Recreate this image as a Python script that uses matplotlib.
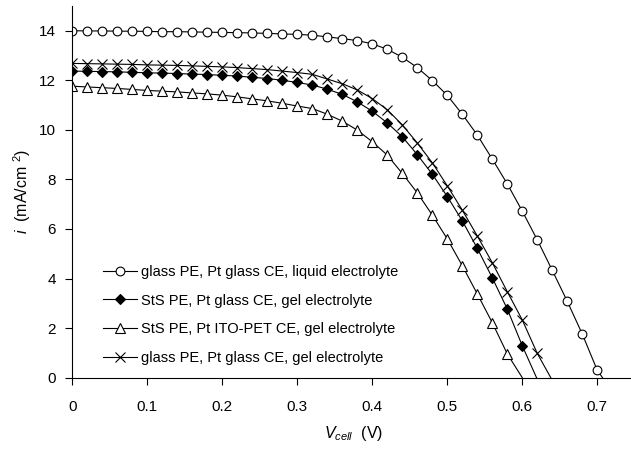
import numpy as np
import matplotlib
matplotlib.use('Agg')
import matplotlib.pyplot as plt

plt.rcParams['font.family'] = ['Liberation Sans', 'DejaVu Sans']
plt.rcParams['mathtext.fontset'] = 'custom'
plt.rcParams['mathtext.rm'] = 'Liberation Sans'
plt.rcParams['mathtext.it'] = 'Liberation Sans:italic'

# measured points, every 0.02 V
v_liq = np.round(np.arange(36) * 0.02, 2)
i_liq = [14.00, 13.99, 13.99, 13.98, 13.98, 13.97, 13.96, 13.96, 13.95, 13.94,
         13.93, 13.92, 13.91, 13.89, 13.87, 13.85, 13.82, 13.75, 13.68, 13.60,
         13.47, 13.25, 12.93, 12.51, 11.99, 11.39, 10.63, 9.79, 8.82, 7.82,
         6.72, 5.56, 4.33, 3.08, 1.76, 0.30]

v_sts = np.round(np.arange(31) * 0.02, 2)
i_sts = [12.37, 12.36, 12.35, 12.34, 12.32, 12.30, 12.29, 12.27, 12.25, 12.23,
         12.20, 12.17, 12.12, 12.07, 12.00, 11.91, 11.81, 11.64, 11.43, 11.13,
         10.75, 10.28, 9.72, 9.00, 8.21, 7.31, 6.33, 5.22, 4.03, 2.77, 1.29]

v_ito = np.round(np.arange(30) * 0.02, 2)
i_ito = [11.76, 11.73, 11.70, 11.67, 11.63, 11.59, 11.56, 11.53, 11.49, 11.45,
         11.40, 11.33, 11.25, 11.17, 11.07, 10.96, 10.86, 10.63, 10.35, 9.99,
         9.52, 8.98, 8.24, 7.46, 6.56, 5.60, 4.52, 3.38, 2.22, 0.96]

v_gel = np.round(np.arange(32) * 0.02, 2)
i_gel = [12.68, 12.67, 12.66, 12.65, 12.64, 12.62, 12.61, 12.60, 12.58, 12.56,
         12.54, 12.51, 12.47, 12.43, 12.37, 12.31, 12.24, 12.05, 11.86, 11.61,
         11.26, 10.81, 10.20, 9.47, 8.67, 7.74, 6.76, 5.72, 4.64, 3.47,
         2.33, 0.98]

# open circuit voltages where the fitted lines hit zero
voc = {'liq': 0.707, 'sts': 0.619, 'ito': 0.600, 'gel': 0.638}

labels = ['glass PE, Pt glass CE, liquid electrolyte',
          'StS PE, Pt glass CE, gel electrolyte',
          'StS PE, Pt ITO-PET CE, gel electrolyte',
          'glass PE, Pt glass CE, gel electrolyte']

fig = plt.figure(figsize=(6.31, 4.54), dpi=100)
ax = fig.add_axes([0.1146, 0.168, 0.8914, 0.819])

series = [(v_liq, i_liq, voc['liq'], 'o', 'white', 6.3),
          (v_sts, i_sts, voc['sts'], 'D', 'black', 5),
          (v_ito, i_ito, voc['ito'], '^', 'white', 7.3),
          (v_gel, i_gel, voc['gel'], 'x', 'black', 7.5)]

for (v, i, vo, m, fc, ms), lab in zip(series, labels):
    ax.plot(list(v) + [vo], list(i) + [0], '-', c='black', lw=0.8)
    ax.plot(v, i, linestyle='none', marker=m, mfc=fc, mec='black', ms=ms, mew=0.8)
    ax.plot([], [], '-', c='black', lw=0.8, marker=m, mfc=fc, mec='black',
            ms=ms, mew=0.8, label=lab)

ax.set_xlim(0, 0.75)
ax.set_ylim(0, 15)
ax.set_xticks(np.arange(0, 0.71, 0.1))
ax.set_xticklabels(['0', '0.1', '0.2', '0.3', '0.4', '0.5', '0.6', '0.7'])
ax.set_yticks(range(0, 15, 2))
ax.spines['top'].set_visible(False)
ax.spines['right'].set_visible(False)
ax.tick_params(axis='x', length=5, width=0.8, pad=11, labelsize=11)
ax.tick_params(axis='y', length=5, width=0.8, pad=7, labelsize=11)

ax.set_xlabel(r'$V_{cell}$  (V)', fontsize=11.5, labelpad=7)
ax.set_ylabel(r'$i$  (mA/cm $^{2}$)', fontsize=11.5, labelpad=4)

ax.legend(loc='lower left', bbox_to_anchor=(0.055, 0.035), frameon=False,
          fontsize=10.5, handlelength=2.3, handletextpad=0.3, labelspacing=1.0,
          borderpad=0, borderaxespad=0)

plt.savefig('out.png', dpi=100)
